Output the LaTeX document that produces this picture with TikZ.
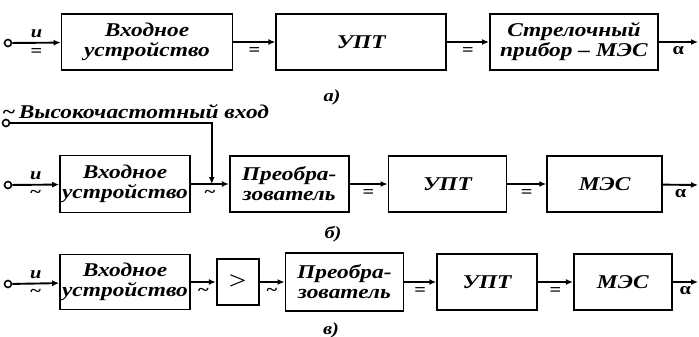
\documentclass[tikz,border=0pt]{standalone}
\usepackage{fontspec}
\setmainfont{Liberation Serif}
\newfontfamily\blockfont{Liberation Serif}[FakeStretch=1.2, Ligatures=TeX]
\usetikzlibrary{arrows.meta, positioning, calc}

\begin{document}
\begin{tikzpicture}[
    x=1pt, y=-1pt,
    every node/.style={font=\blockfont\bfseries\itshape\fontsize{19.5}{20}\selectfont},
    block/.style={draw, line width=1.7pt, minimum height=56pt, align=center, inner sep=1pt},
    term/.style={circle, draw, line width=1.6pt, minimum size=7pt, inner sep=0pt},
    arrow/.style={-{Latex[length=7pt, width=6pt]}, line width=1.9pt},
    lbl/.style={font=\blockfont\bfseries\fontsize{17}{17}\selectfont, inner sep=1pt},
    caption/.style={font=\blockfont\bfseries\itshape\fontsize{17}{17}\selectfont}
]
    \useasboundingbox (0,0) rectangle (699,337);

    % а) direct current meter
    \node[term] (ua) at (8,43) {};
    \node[block, minimum width=171pt] (inpa) at (147,42) {Входное\\устройство};
    \node[block, minimum width=170pt, right=42pt of inpa] (upta) {УПТ};
    \node[block, minimum width=168pt, right=42pt of upta] (mesa) {Стрелочный\\прибор -- МЭС};
    \coordinate (outa) at (698,42);
    \node[caption] (capa) at (332,97) {а)};

    \draw[arrow] (ua) -- node[lbl, above=3pt] {\itshape u} node[lbl, below=4pt] {=} (inpa);
    \draw[arrow] (inpa) -- node[lbl, below=4pt] {=} (upta);
    \draw[arrow] (upta) -- node[lbl, below=4pt] {=} (mesa);
    \draw[arrow] (mesa) -- node[lbl, below=3pt] {α} (outa);

    % б) with converter
    \node[term] (ub) at (8,185) {};
    \node[block, minimum width=130pt, minimum height=57pt] (inpb) at (125,184) {Входное\\устройство};
    \node[block, minimum width=119pt, right=38pt of inpb] (convb) {Преобра-\\зователь};
    \node[block, minimum width=118pt, right=38pt of convb] (uptb) {УПТ};
    \node[block, minimum width=115pt, right=39pt of uptb] (mesb) {МЭС};
    \coordinate (outb) at (698,185);
    \node[term] (hf) at (6,123) {};
    \node[anchor=south west, inner sep=1pt] (hftxt) at (1,120) {\textasciitilde\,Высокочастотный вход};
    \coordinate (mixb) at ($(inpb.east)!0.55!(convb.west)$);
    \node[caption] (capb) at (333,234) {б)};

    \draw[arrow] (ub) -- node[lbl, above=3pt] {\itshape u} node[lbl, below=4pt] {\textasciitilde} (inpb);
    \draw[arrow] (inpb) -- node[lbl, below=4pt] {\textasciitilde} (convb);
    \draw[arrow] (hf) -| (mixb);
    \draw[arrow] (convb) -- node[lbl, below=4pt] {=} (uptb);
    \draw[arrow] (uptb) -- node[lbl, below=4pt] {=} (mesb);
    \draw[arrow] (mesb) -- node[lbl, below=3pt] {α} (outb);

    % в) with amplifier
    \node[term] (uc) at (8,284) {};
    \node[block, minimum width=130pt, minimum height=55pt] (inpc) at (125,282) {Входное\\устройство};
    \node[block, minimum width=42pt, minimum height=46pt, right=25pt of inpc, font=\blockfont\fontsize{26}{26}\selectfont] (ampc) {>};
    \node[block, minimum width=118pt, minimum height=58pt, right=25pt of ampc] (convc) {Преобра-\\зователь};
    \node[block, minimum width=100pt, right=32pt of convc] (uptc) {УПТ};
    \node[block, minimum width=98pt, right=35pt of uptc] (mesc) {МЭС};
    \coordinate (outc) at (698,282);
    \node[caption] (capc) at (331,330) {в)};

    \draw[arrow] (uc) -- node[lbl, above=3pt] {\itshape u} node[lbl, below=4pt] {\textasciitilde} (inpc);
    \draw[arrow] (inpc) -- node[lbl, below=4pt] {\textasciitilde} (ampc);
    \draw[arrow] (ampc) -- node[lbl, below=4pt] {\textasciitilde} (convc);
    \draw[arrow] (convc) -- node[lbl, below=4pt] {=} (uptc);
    \draw[arrow] (uptc) -- node[lbl, below=4pt] {=} (mesc);
    \draw[arrow] (mesc) -- node[lbl, below=3pt] {α} (outc);
\end{tikzpicture}
\end{document}
